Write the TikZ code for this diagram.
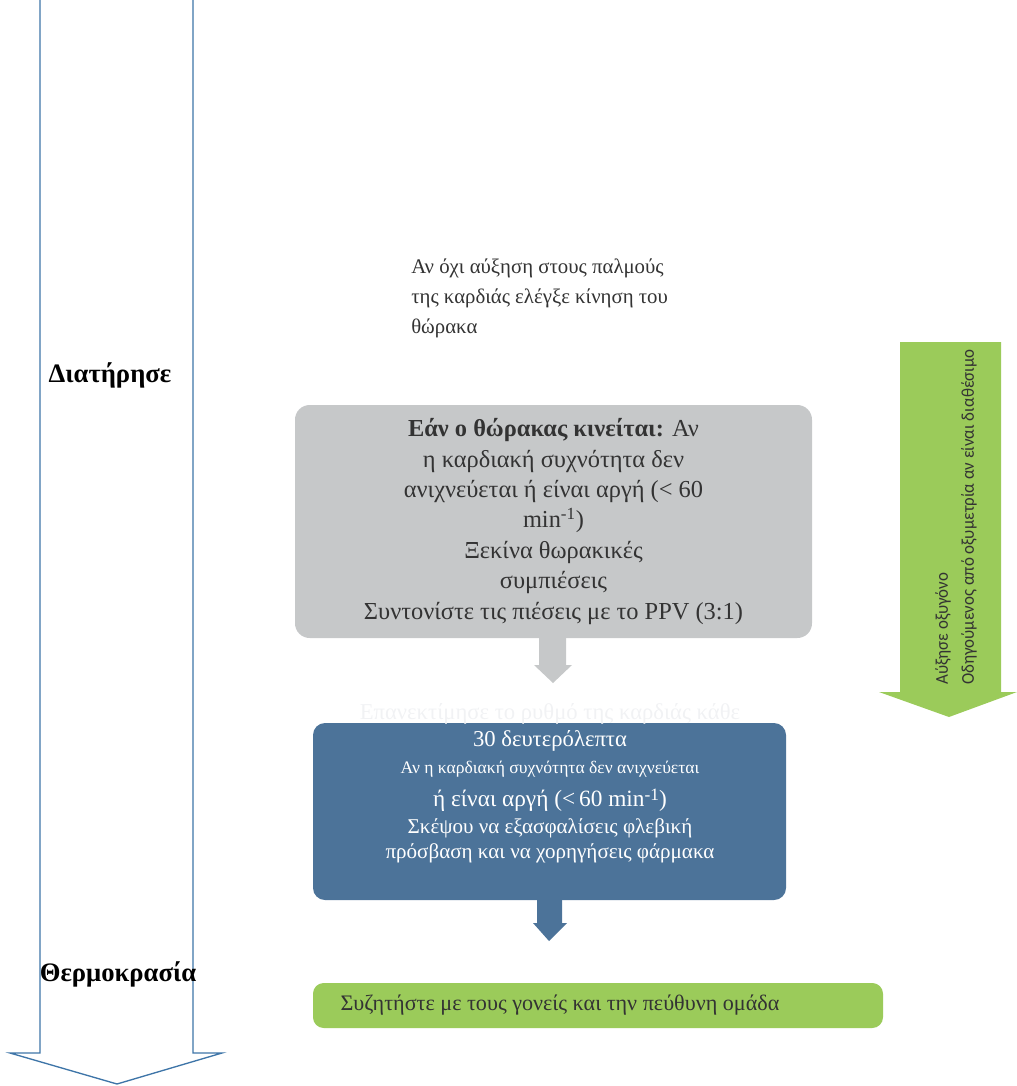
\documentclass[tikz,border=0pt]{standalone}
\usepackage{fontspec}
\setmainfont{Liberation Serif}
\newfontfamily\condsans[FakeStretch=0.94]{Carlito}
\definecolor{arrowblue}{HTML}{3E75A8}
\definecolor{boxgray}{HTML}{C6C8C9}
\definecolor{boxblue}{HTML}{4C7399}
\definecolor{boxgreen}{HTML}{9BCB5A}
\definecolor{txtdark}{HTML}{333333}
\definecolor{faint}{HTML}{F1F2F4}
\begin{document}
\begin{tikzpicture}[x=0.75pt,y=-0.75pt,
  lbl/.style={inner sep=0pt, font=\bfseries\fontsize{20}{24}\selectfont, text=black},
  roundbox/.style={rounded corners=11pt, inner sep=0pt},
  body/.style={inner sep=0pt, align=center, text=txtdark}]
\useasboundingbox (0,0) rectangle (1017,1086);

% big left arrow (outline)
\draw[arrowblue, line width=1pt, fill=white, line join=miter]
  (40,-5) -- (40,1053) -- (10,1053) -- (117,1084) -- (222,1053) -- (193,1053) -- (193,-5);
\node[lbl] (keep) at (110,375) {Διατήρησε};
\node[lbl] (temp) at (118,974) {Θερμοκρασία};

% green right arrow
\fill[boxgreen] (900,342) -- (1001,342) -- (1001,692) -- (1017,692) -- (949,717)
  -- (879,692) -- (900,692) -- cycle;
\node[rotate=90, anchor=west, inner sep=0pt, align=left, text=txtdark,
  font=\condsans\fontsize{13.5}{19.5}\selectfont] (oxy) at (956,685)
  {Αύξησε οξυγόνο\\Οδηγούμενος από οξυμετρία αν είναι διαθέσιμο};

% top text (anchor = baseline of last line)
\node[anchor=base west, inner sep=0pt, align=left, text=txtdark,
  font=\fontsize{15.6}{22.5}\selectfont] (check) at (411,333)
  {Αν όχι αύξηση στους παλμούς\\της καρδιάς ελέγξε κίνηση του\\θώρακα};

% gray box
\node[roundbox, fill=boxgray, minimum width=387.75pt, minimum height=174.75pt,
  body, font=\fontsize{18.3}{22.8}\selectfont] (gray) at (553.5,521.5)
  {\textbf{Εάν ο θώρακας κινείται:} Αν\\η καρδιακή συχνότητα δεν\\ανιχνεύεται ή είναι αργή (< 60\\min\textsuperscript{-1})\\Ξεκίνα θωρακικές\\συμπιέσεις\\Συντονίστε τις πιέσεις με το PPV (3:1)};
\fill[boxgray] (539,637) -- (566,637) -- (566,665) -- (572,665) -- (553,683)
  -- (534,665) -- (539,665) -- cycle;

% blue box
\node[roundbox, rounded corners=9pt, fill=boxblue, minimum width=354.75pt, minimum height=132.75pt] (blue) at (549.5,811.5) {};
\node[inner sep=0pt, anchor=base, text=faint, font=\fontsize{17}{20}\selectfont] (reassess) at (550,719)
  {Επανεκτίμησε το ρυθμό της καρδιάς κάθε};
\node[inner sep=0pt, align=center, text=white, anchor=base,
  font=\fontsize{17}{19}\selectfont] (bluetxt) at (550,858)
  {30 δευτερόλεπτα\\[1.2pt]
   {\fontsize{13.2}{15}\selectfont Αν η καρδιακή συχνότητα δεν ανιχνεύεται}\\[5.5pt]
   {\fontsize{17.5}{19}\selectfont ή είναι αργή (<\,60 min\raisebox{0.55ex}{\fontsize{13}{15}\selectfont -1})}\\[1.2pt]
   {\fontsize{15.8}{19}\selectfont Σκέψου να εξασφαλίσεις φλεβική}\\[-0.3pt]
   {\fontsize{15.8}{19}\selectfont πρόσβαση και να χορηγήσεις φάρμακα}};
\fill[boxblue] (537,899) -- (562,899) -- (562,923) -- (567,923) -- (549,941)
  -- (533,923) -- (537,923) -- cycle;

% green box
\node[roundbox, rounded corners=8pt, fill=boxgreen, minimum width=427.5pt, minimum height=33.75pt] (discuss) at (598,1005.5) {};
\node[body, font=\fontsize{16.6}{20}\selectfont] (discusstxt) at (560,1005)
  {Συζητήστε με τους γονείς και την πεύθυνη ομάδα};
\end{tikzpicture}
\end{document}
